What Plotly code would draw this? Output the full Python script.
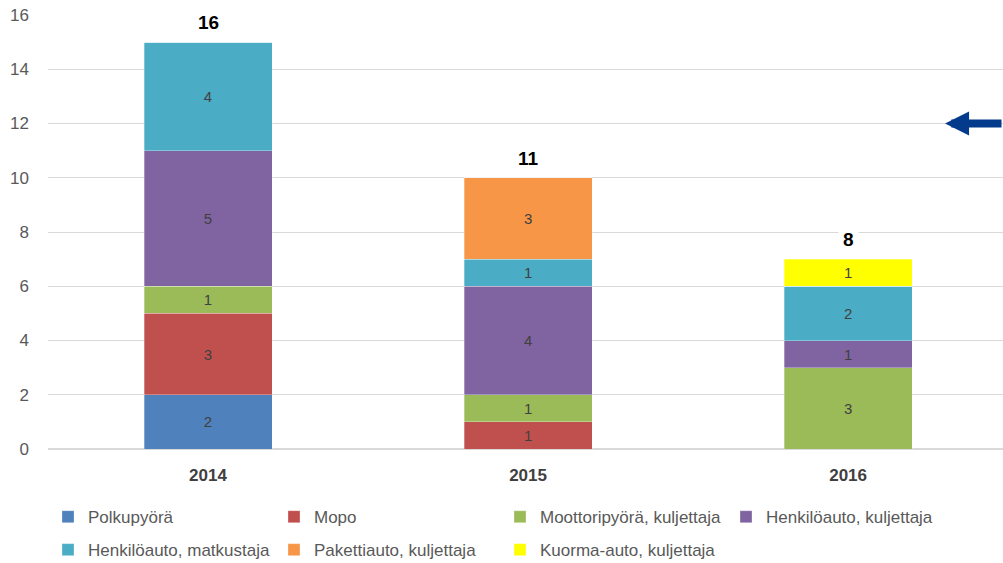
import plotly.graph_objects as go

years = ["2014", "2015", "2016"]
series = [
    "Polkupyörä",
    "Mopo",
    "Moottoripyörä, kuljettaja",
    "Henkilöauto, kuljettaja",
    "Henkilöauto, matkustaja",
    "Pakettiauto, kuljettaja",
    "Kuorma-auto, kuljettaja",
]
polkupyora = [2, 0, 0]
mopo = [3, 1, 0]
moottoripyora = [1, 1, 3]
henkiloauto_kuljettaja = [5, 4, 1]
henkiloauto_matkustaja = [4, 1, 2]
pakettiauto = [0, 3, 0]
kuorma_auto = [0, 0, 1]
total_labels = [16, 11, 8]
colors = ["#4F81BD", "#C0504D", "#9BBB59", "#8064A2", "#4BACC6", "#F79646", "#FFFF00"]

values = [polkupyora, mopo, moottoripyora, henkiloauto_kuljettaja,
          henkiloauto_matkustaja, pakettiauto, kuorma_auto]

FONT = "Liberation Sans, Arial, sans-serif"
xpos = list(range(len(years)))

fig = go.Figure()
for k, (name, vals, col) in enumerate(zip(series, values, colors)):
    fig.add_trace(go.Bar(
        x=xpos, y=vals, name=name,
        legend="legend" if k < 4 else "legend2",
        marker=dict(color=col, line=dict(color="rgba(255,255,255,0.6)", width=0.5)),
        text=[str(v) if v else "" for v in vals],
        textposition="inside", insidetextanchor="middle", textangle=0,
        constraintext="none",
        textfont=dict(color="#404040", size=15, family=FONT),
        width=0.4,
    ))

stack_tops = [sum(v[i] for v in values) for i in range(len(years))]
for i, lab in enumerate(total_labels):
    fig.add_annotation(x=xpos[i], y=stack_tops[i] + 0.72, text=f"<b>{lab}</b>",
                       showarrow=False, bgcolor="white",
                       font=dict(size=19, color="black", family=FONT),
                       borderpad=4)

# arrow pointing left at y=12
fig.add_annotation(x=2.303, y=12, xref="x", yref="y", ax=62, ay=0,
                   text="", showarrow=True, arrowhead=2, arrowsize=0.6,
                   arrowwidth=8, arrowcolor="#023A8C")

legend_common = dict(orientation="h", x=0.0, xanchor="left", yanchor="middle",
                     traceorder="normal",
                     font=dict(size=17, color="#595959", family=FONT),
                     entrywidth=181, entrywidthmode="pixels", itemwidth=30,
                     bgcolor="rgba(0,0,0,0)")

fig.update_layout(
    barmode="stack",
    width=1003, height=563,
    margin=dict(l=48, r=0, t=15, b=114, autoexpand=False),
    plot_bgcolor="white", paper_bgcolor="white",
    showlegend=True,
    legend=dict(y=-0.157, **legend_common),
    legend2=dict(y=-0.233, **legend_common),
    font=dict(family=FONT),
)
fig.update_xaxes(range=[-0.5, 2.484], tickvals=xpos,
                 ticktext=[f"<b>{y}</b>" for y in years],
                 tickfont=dict(size=17, color="#404040", family=FONT),
                 showgrid=False, zeroline=False, showline=False, ticks="",
                 ticklabelstandoff=14, automargin=False)
fig.update_yaxes(range=[0, 16], dtick=2, showgrid=True, gridcolor="#D9D9D9",
                 gridwidth=1, zeroline=True, zerolinecolor="#D9D9D9",
                 tickfont=dict(size=17, color="#595959", family=FONT),
                 ticks="", ticklabelstandoff=18, automargin=False)

fig.write_html("out.html", config={"displayModeBar": False},
               post_script="document.body.style.margin='0px';")
